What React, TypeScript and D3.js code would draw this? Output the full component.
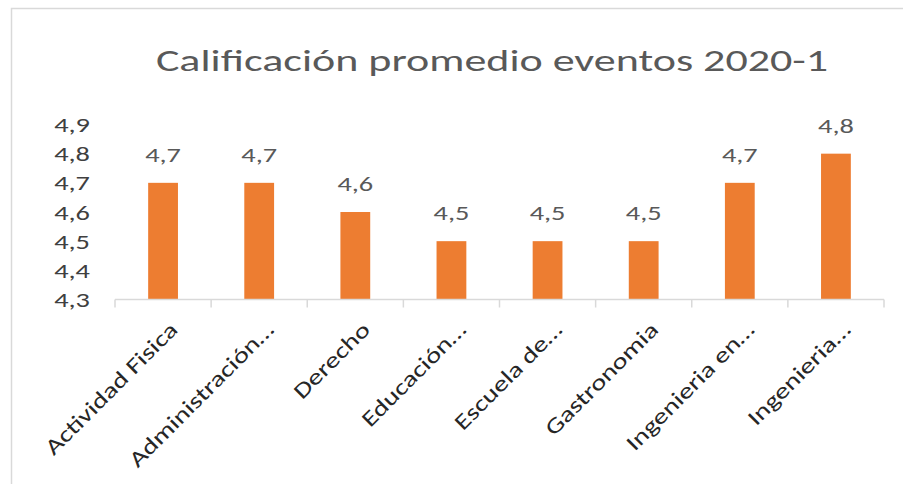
import React from "react";
import * as d3 from "d3";

const categories = [
  "Actividad Fisica",
  "Administración…",
  "Derecho",
  "Educación…",
  "Escuela de…",
  "Gastronomia",
  "Ingenieria en…",
  "Ingenieria…",
];
const values = [4.7, 4.7, 4.6, 4.5, 4.5, 4.5, 4.7, 4.8];
const yTicks = [4.3, 4.4, 4.5, 4.6, 4.7, 4.8, 4.9];
const title = "Calificación promedio eventos 2020-1";

const W = 903;
const H = 484;
const FONT = "Carlito, Lato, 'Open Sans', sans-serif";
const fmt = (v: number) => v.toFixed(1).replace(".", ",");
const SX = 1.35;

export default function App() {
  const x = d3.scaleBand<string>().domain(categories).range([115, 884]).paddingInner(0.69).paddingOuter(0.345);
  const band = d3.scaleBand<string>().domain(categories).range([115, 884]);
  const y = d3.scaleLinear().domain([4.3, 4.9]).range([299.5, 124.5]);
  const tickXs = [...categories.map((c) => band(c) as number), 884];

  return (
    <svg width={W} height={H} style={{ position: "absolute", left: 0, top: 0, background: "#fff" }} fontFamily={FONT}>
      <rect x={11.5} y={8.5} width={W + 20} height={H + 20} fill="#fff" stroke="#d9d9d9" strokeWidth={1.5} />
      <text transform={`translate(492,71) scale(1.42,1)`} textAnchor="middle" fontSize={31} fill="#595959">{title}</text>
      {yTicks.map((t) => (
        <text key={t} transform={`translate(90,${y(t)}) scale(${SX},1)`} dy="0.36em" textAnchor="end" fontSize={21} fill="#404040">{fmt(t)}</text>
      ))}
      {categories.map((c, i) => (
        <g key={c}>
          <rect x={x(c)} y={y(values[i])} width={x.bandwidth()} height={y(4.3) - y(values[i])} fill="#ED7D31" />
          <text transform={`translate(${(x(c) as number) + x.bandwidth() / 2},${y(values[i]) - 21}) scale(${SX},1)`} textAnchor="middle" fontSize={21} fill="#595959">{fmt(values[i])}</text>
        </g>
      ))}
      <line x1={115} x2={884} y1={299.5} y2={299.5} stroke="#d9d9d9" strokeWidth={1.5} />
      {tickXs.map((tx, i) => (
        <line key={i} x1={tx} x2={tx} y1={299.5} y2={307.5} stroke="#d9d9d9" strokeWidth={1.5} />
      ))}
      {categories.map((c) => {
        const cx = (band(c) as number) + band.bandwidth() / 2 + 16;
        return (
          <text key={c} transform={`translate(${cx},${331}) rotate(-45) scale(1.3,1)`} textAnchor="end" fontSize={22} fill="#262626">{c}</text>
        );
      })}
    </svg>
  );
}
